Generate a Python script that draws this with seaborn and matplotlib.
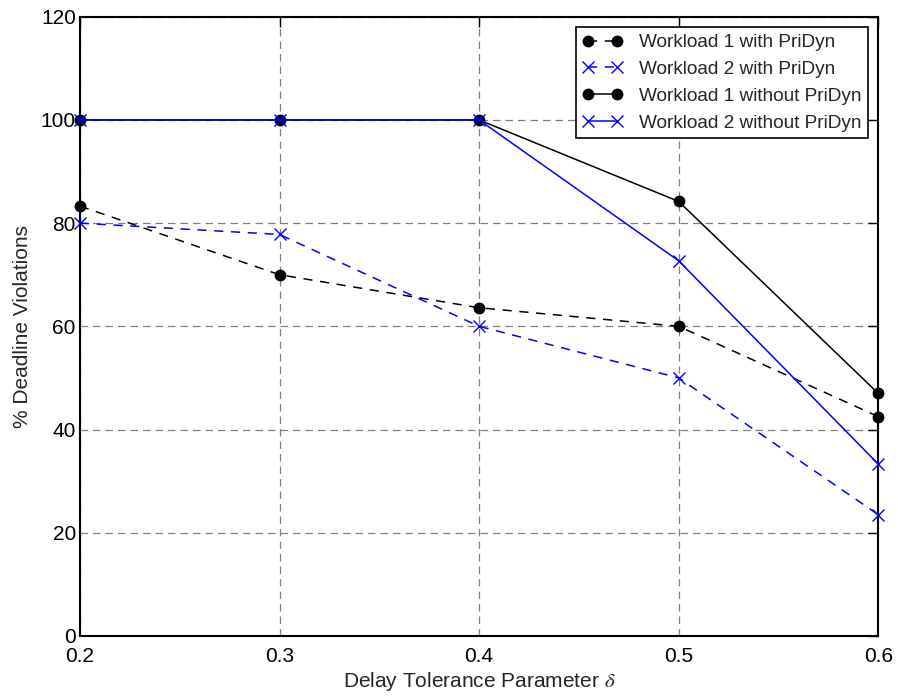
import matplotlib
matplotlib.use("Agg")
import matplotlib.pyplot as plt
import seaborn as sns
import pandas as pd

delta = [0.2, 0.3, 0.4, 0.5, 0.6]
w1_with = [83.3, 70.0, 63.6, 60.0, 42.5]
w2_with = [80.0, 77.8, 60.0, 50.0, 23.5]
w1_without = [100.0, 100.0, 100.0, 84.2, 47.0]
w2_without = [100.0, 100.0, 100.0, 72.7, 33.3]
labels = ["Workload 1 with PriDyn", "Workload 2 with PriDyn",
          "Workload 1 without PriDyn", "Workload 2 without PriDyn"]

sns.set_theme(style="white")
plt.rcParams['font.family'] = ['Liberation Sans', 'DejaVu Sans']
plt.rcParams['mathtext.fontset'] = 'stix'

fig, ax = plt.subplots(figsize=(8.98, 6.98), dpi=100)
fig.subplots_adjust(left=0.089, right=0.978, top=0.976, bottom=0.089)

series = [w1_with, w2_with, w1_without, w2_without]
styles = [dict(color="black", ls=(0, (6, 5)), marker="o", ms=7.5),
          dict(color="blue", ls=(0, (6, 5)), marker="x", ms=8),
          dict(color="black", ls="-", marker="o", ms=7.5),
          dict(color="blue", ls="-", marker="x", ms=8)]

for vals, lab, st in zip(series, labels, styles):
    df = pd.DataFrame({"x": delta, "y": vals})
    sns.lineplot(data=df, x="x", y="y", ax=ax, label=lab, color=st["color"],
                 linestyle=st["ls"], marker=st["marker"], markersize=st["ms"],
                 markeredgewidth=1, markeredgecolor=st["color"],
                 linewidth=1.1, clip_on=False, zorder=3)

ax.set_xlim(0.2, 0.6)
ax.set_ylim(0, 120)
ax.set_xticks([0.2, 0.3, 0.4, 0.5, 0.6])
ax.set_yticks([0, 20, 40, 60, 80, 100, 120])
ax.set_xticklabels(["0.2", "0.3", "0.4", "0.5", "0.6"])
ax.grid(True, color="gray", linestyle=(0, (6, 4)), linewidth=0.9)
ax.tick_params(direction="in", length=7, width=1, top=True, right=True,
               labelsize=15, colors="black")
ax.tick_params(axis="x", pad=8)
ax.tick_params(axis="y", pad=3)
for s in ax.spines.values():
    s.set_visible(True)
    s.set_color("black")
    s.set_linewidth(1.5)
ax.set_xlabel(r"Delay Tolerance Parameter $\delta$", fontsize=15, labelpad=3)
ax.set_ylabel("% Deadline Violations", fontsize=15, labelpad=6)

leg = ax.legend(loc="upper right", fontsize=13.7, frameon=True, fancybox=False,
                edgecolor="black", framealpha=1, borderpad=0.35, labelspacing=0.5,
                handlelength=2.1, handletextpad=0.85, borderaxespad=0.55, numpoints=2)
leg.get_frame().set_linewidth(1.2)

fig.savefig("out.png", dpi=100)
